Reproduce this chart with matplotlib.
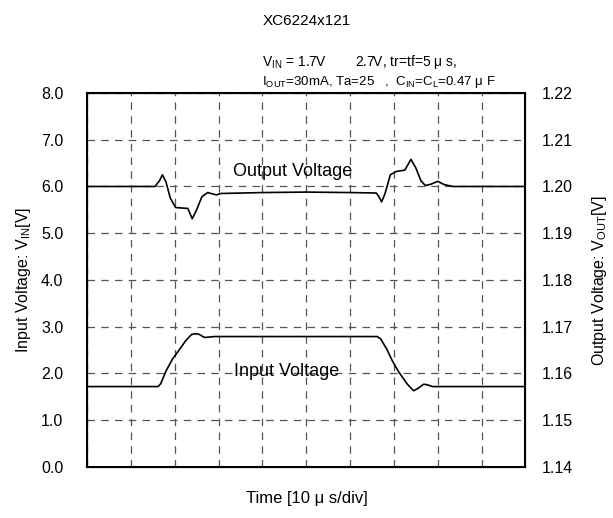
import matplotlib
matplotlib.use("Agg")
import matplotlib.pyplot as plt

plt.rcParams['font.family'] = ['Liberation Sans', 'DejaVu Sans']
plt.rcParams['mathtext.fontset'] = 'custom'
plt.rcParams['mathtext.rm'] = 'Liberation Sans'
plt.rcParams['mathtext.it'] = 'Liberation Sans'

# time in divisions (10 us/div)
t_in = [0, 1.62, 1.68, 1.8, 1.95, 2.1, 2.25, 2.38, 2.45, 2.55, 2.68, 2.8, 2.9, 4.0, 5.5, 6.62,
        6.7, 6.85, 6.96, 7.1, 7.3, 7.45, 7.55, 7.68, 7.76, 7.88, 10]
v_in = [1.72, 1.72, 1.78, 2.05, 2.31, 2.5, 2.7, 2.83, 2.85, 2.84, 2.77, 2.78, 2.79, 2.79, 2.79, 2.79,
        2.74, 2.5, 2.28, 2.05, 1.78, 1.63, 1.68, 1.77, 1.76, 1.72, 1.72]

t_out = [0, 1.55, 1.65, 1.72, 1.8, 1.9, 2.02, 2.3, 2.4, 2.5, 2.62, 2.75, 2.95, 3.05, 4.0, 5.0,
         6.0, 6.6, 6.66, 6.72, 6.8, 6.92, 7.05, 7.25, 7.39, 7.5, 7.62, 7.72, 7.85, 8.0, 8.15, 8.35, 10]
v_out = [1.2000, 1.2000, 1.2012, 1.2025, 1.2010, 1.1975, 1.1955, 1.1953, 1.1931, 1.1950, 1.1978,
         1.1987, 1.1982, 1.1985, 1.1987, 1.1988, 1.1987, 1.1986, 1.1978, 1.1967, 1.1985, 1.2025,
         1.2032, 1.2035, 1.2058, 1.2040, 1.2012, 1.2002, 1.2005, 1.2011, 1.2004, 1.2000, 1.2000]

left_ticks = [0, 1, 2, 3, 4, 5, 6, 7, 8]
right_ticks = [1.14, 1.15, 1.16, 1.17, 1.18, 1.19, 1.20, 1.21, 1.22]

fig = plt.figure(figsize=(6.13, 5.18), dpi=100)
ax = fig.add_axes([0.142, 0.0985, 0.715, 0.722])
ax2 = ax.twinx()

ax.set_xlim(0, 10)
ax.set_ylim(0, 8)
ax.set_xticks(range(0, 11))
ax.set_xticklabels([])
ax.set_yticks(left_ticks)
ax.set_yticklabels(["%.1f" % v for v in left_ticks], fontsize=11.5)
ax.tick_params(length=0, pad=17)
ax.tick_params(axis='x', pad=0)
ax.grid(True, color='#555555', linestyle=(0, (6, 5)), linewidth=0.9)
for s in ax.spines.values():
    s.set_linewidth(1.5)

ax2.set_ylim(1.14, 1.22)
ax2.set_yticks(right_ticks)
ax2.set_yticklabels(["%.2f" % v for v in right_ticks], fontsize=11.5)
ax2.tick_params(length=0, pad=12)

ax.plot(t_in, v_in, color='black', linewidth=1.2)
ax2.plot(t_out, v_out, color='black', linewidth=1.2)

ax.text(4.68, 6.33, "Output Voltage", fontsize=13, ha='center', va='center')
ax.text(4.55, 2.05, "Input Voltage", fontsize=13, ha='center', va='center')

fig.text(0.5, 0.037, "Time [10 \u03bc s/div]", fontsize=12, ha='center', va='center')
ax.set_ylabel("Input Voltage: V$_{\\rm IN}$[V]", fontsize=11.5, labelpad=6)
ax2.set_ylabel("Output Voltage: V$_{\\rm OUT}$[V]", fontsize=11.5, labelpad=12)

fig.text(0.5, 0.96, "XC6224x121", fontsize=11, ha='center', va='center')
fig.text(0.428, 0.88, "V$_{\\rm IN}$ = 1.7V        2.7V, tr=tf=5 \u03bc s,", fontsize=10, ha='left', va='center')
fig.text(0.428, 0.842, "I$_{\\rm OUT}$=30mA, Ta=25   ,  C$_{\\rm IN}$=C$_{\\rm L}$=0.47 \u03bc F", fontsize=9.5, ha='left', va='center')

fig.savefig("out.png", dpi=100)
